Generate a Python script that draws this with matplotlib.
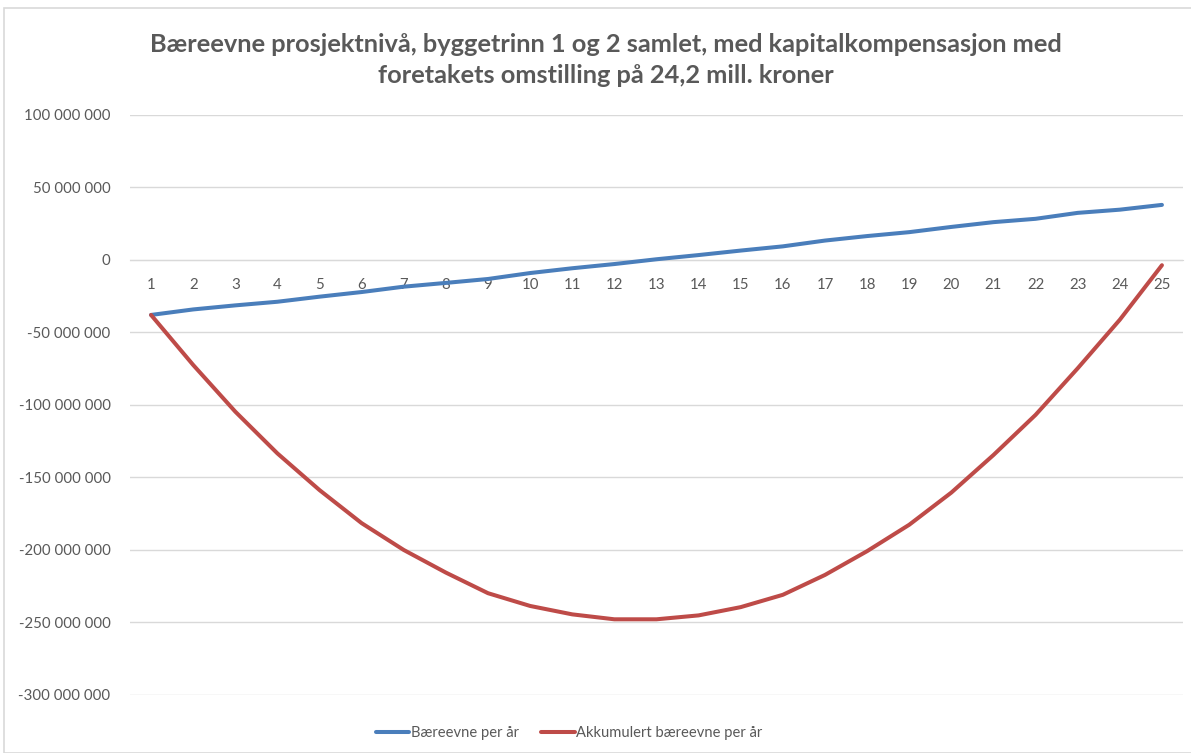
import numpy as np
import matplotlib
matplotlib.use("Agg")
import matplotlib.pyplot as plt
from matplotlib.patches import Rectangle
from matplotlib.ticker import FuncFormatter

# data (millioner kroner, lest av figuren)
years = list(range(1, 26))
baereevne = [-38.1, -34.3, -31.5, -29.0, -25.5, -22.3, -18.6, -16.0, -13.3, -9.2,
             -5.9, -3.0, 0.3, 3.2, 6.3, 9.2, 13.2, 16.3, 19.0, 22.6,
             25.9, 28.2, 32.3, 34.5, 37.8]
akkumulert = [-38.1, -72.6, -104.8, -133.6, -158.9, -181.7, -200.2, -215.8, -230.0, -238.8,
              -244.6, -248.0, -248.0, -245.3, -239.6, -231.1, -217.4, -201.0, -182.8, -160.6,
              -134.7, -107.0, -74.9, -41.4, -3.8]
series_names = ["Bæreevne per år", "Akkumulert bæreevne per år"]
title = ("Bæreevne prosjektnivå, byggetrinn 1 og 2 samlet, med kapitalkompensasjon med\n"
         "foretakets omstilling på 24,2 mill. kroner")

W, H = 1191, 753
text_col = "#595959"
grid_col = "#d9d9d9"
blue = "#4a7ebb"
red = "#be4b48"
font = ["Lato", "DejaVu Sans"]

fig = plt.figure(figsize=(W / 100, H / 100), dpi=100)
fig.patches.append(Rectangle((4 / W, 0), 2, 1 - 8 / H, transform=fig.transFigure,
                             fill=False, edgecolor=grid_col, lw=1.2))

ax = fig.add_axes([130 / W, 1 - 694.7 / H, 1053 / W, (694.7 - 114.7) / H])
x = np.arange(len(years))
ax.plot(x, np.array(baereevne) * 1e6, color=blue, lw=2.9, solid_capstyle="round",
        label=series_names[0], zorder=3)
ax.plot(x, np.array(akkumulert) * 1e6, color=red, lw=2.9, solid_capstyle="round",
        label=series_names[1], zorder=3)

ax.set_xlim(-0.5, len(years) - 0.5)
ax.set_ylim(-300e6, 100e6)
ax.set_yticks(np.arange(-300e6, 100e6 + 1, 50e6))
ax.yaxis.set_major_formatter(FuncFormatter(lambda v, p: f"{v:,.0f}".replace(",", " ")))
ax.grid(axis="y", color=grid_col, lw=1.0, zorder=0)
ax.set_axisbelow(True)

for s in ["top", "right", "left"]:
    ax.spines[s].set_visible(False)
ax.spines["bottom"].set_position(("data", 0))
ax.spines["bottom"].set_color(grid_col)
ax.set_xticks(x)
ax.set_xticklabels([str(y) for y in years])
ax.tick_params(axis="x", length=0, pad=13, labelsize=10.8, labelcolor=text_col)
ax.tick_params(axis="y", length=0, pad=14, labelsize=10.8, labelcolor=text_col)
for lab in ax.get_xticklabels() + ax.get_yticklabels():
    lab.set_family(font)

fig.text(606 / W, 1 - 60 / H, title, ha="center", va="center", fontsize=18.3,
         fontweight="bold", color=text_col, family=font, linespacing=1.38)

fig.legend(loc="center", bbox_to_anchor=(569 / W, 1 - 733 / H), ncol=2, frameon=False,
           prop={"family": font, "size": 10.6}, labelcolor=text_col, handlelength=2.3,
           handletextpad=0.1, columnspacing=1.5)

fig.savefig("out.png", dpi=100)
